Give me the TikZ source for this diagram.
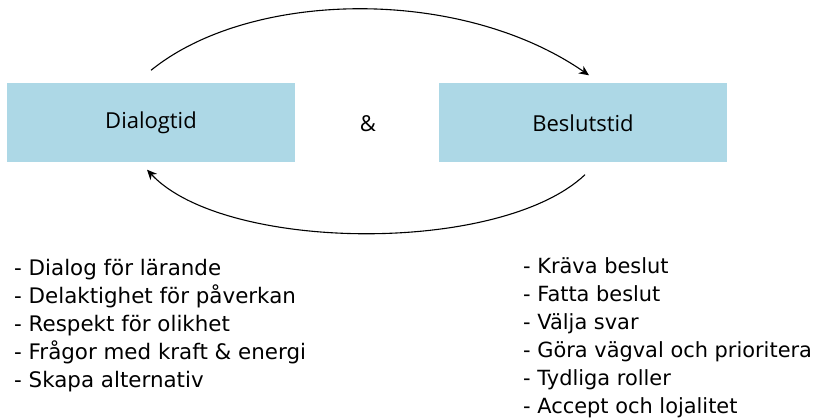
\documentclass[tikz,border=0pt]{standalone}
\usepackage{fontspec}
\setmainfont{DejaVu Sans}
\newfontfamily\boxfont{Open Sans}
\usetikzlibrary{arrows.meta}
\definecolor{boxblue}{HTML}{ADD8E6}
\tikzset{
  phase/.style={fill=boxblue, draw=none, minimum width=288pt, minimum height=79pt, inner sep=0pt, font=\boxfont\fontsize{22}{26}\selectfont},
  cycle/.style={line width=1.1pt, -{Stealth[length=10pt,width=9pt]}},
  listtext/.style={anchor=north west, align=left, inner sep=0pt, font=\fontsize{21.4}{27.9}\selectfont},
  listright/.style={listtext, font=\fontsize{20.9}{28}\selectfont}
}
\begin{document}
\begin{tikzpicture}[x=1pt,y=-1pt]
\useasboundingbox (0,0) rectangle (818,419);
\node[phase] (d) at (151,123) {Dialogtid};
\node[phase] (b) at (583,123) {Beslutstid};
\node[font=\boxfont\fontsize{22}{26}\selectfont] (amp) at (368,124) {\&};
\draw[cycle] ([yshift=13pt]d.north) .. controls (250,-10) and (460,-14) .. ([xshift=6pt,yshift=8pt]b.north);
\draw[cycle] ([xshift=2pt,yshift=-12pt]b.south) .. controls (500,255) and (224,252) .. ([xshift=-4pt,yshift=-7pt]d.south);
\node[listtext] (l) at (14,259) {- Dialog för lärande\\- Delaktighet för påverkan\\- Respekt för olikhet\\- Frågor med kraft \& energi\\- Skapa alternativ};
\node[listright] (r) at (523,257) {- Kräva beslut\\- Fatta beslut\\- Välja svar\\- Göra vägval och prioritera\\- Tydliga roller\\- Accept och lojalitet};
\end{tikzpicture}
\end{document}
